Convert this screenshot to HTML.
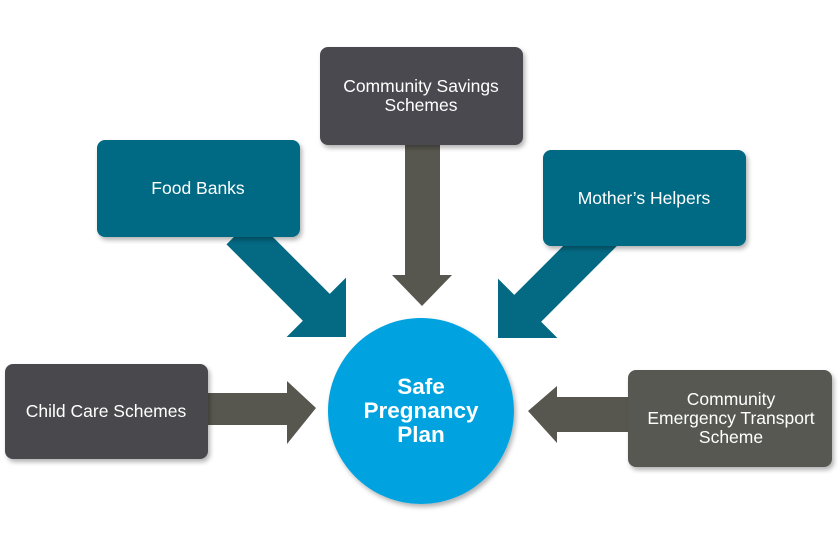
<!DOCTYPE html>
<html><head><style>
body{margin:0;background:#fff;}
svg{display:block;font-family:"Liberation Sans",Arial,sans-serif;}
</style></head><body>
<svg width="839" height="552" viewBox="0 0 839 552">
<defs>
<filter id="sh" x="-10%" y="-10%" width="130%" height="130%"><feDropShadow dx="2" dy="3" stdDeviation="2.5" flood-color="#000" flood-opacity="0.3"/></filter>
</defs>
<g fill="#57574f">
<polygon points="405,140 440,140 440,275 452,275 422,306 392,275 405,275"/>
<polygon points="205,393 287,393 287,381 316,408 287,444 287,425 205,425"/>
<polygon points="635,397 557,397 557,386 528,411 557,443 557,432 635,432"/>
</g>
<g fill="#046a84">
<g transform="translate(346,337) rotate(-135)">
<polygon points="0,0 42,-42 42,-19 150,-19 150,19 42,19 42,42"/>
</g>
<g transform="translate(498,338) rotate(-45)">
<polygon points="0,0 42,-42 42,-19 150,-19 150,19 42,19 42,42"/>
</g>
</g>
<g filter="url(#sh)">
<rect x="320" y="47" width="203" height="98" rx="8" fill="#4a4a4f"/>
<rect x="97" y="140" width="203" height="97" rx="8" fill="#046a84"/>
<rect x="543" y="150" width="203" height="96" rx="8" fill="#046a84"/>
<rect x="5" y="364" width="203" height="95" rx="8" fill="#48484d"/>
<rect x="628" y="370" width="204" height="97" rx="8" fill="#575851"/>
<circle cx="421" cy="411" r="93" fill="#00a3e0"/>
</g>
<g fill="#fff" font-size="17.5" text-anchor="middle">
<text x="421" y="92">Community Savings</text>
<text x="421" y="111">Schemes</text>
<text x="198" y="194">Food Banks</text>
<text x="644" y="204">Mother’s Helpers</text>
<text x="106" y="417">Child Care Schemes</text>
<text x="731" y="405">Community</text>
<text x="731" y="424">Emergency Transport</text>
<text x="731" y="443">Scheme</text>
</g>
<g fill="#fff" font-size="22.5" font-weight="bold" text-anchor="middle">
<text x="421" y="394">Safe</text>
<text x="421" y="418">Pregnancy</text>
<text x="421" y="442">Plan</text>
</g>
</svg>
</body></html>
